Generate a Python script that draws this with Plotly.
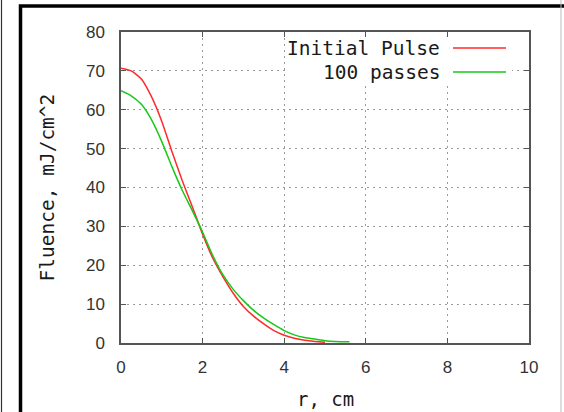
import plotly.graph_objects as go

# ---- data ----
r_initial = [0, 0.25, 0.5, 0.75, 1.0, 1.25, 1.5, 1.75, 2.0, 2.25, 2.5, 2.75, 3.0,
             3.25, 3.5, 3.75, 4.0, 4.25, 4.5, 4.75, 5.0]
f_initial = [70.7, 70.0, 67.9, 63.3, 57.0, 49.2, 41.8, 35.0, 28.0, 21.8, 17.0, 12.8, 9.4,
             6.9, 4.9, 3.2, 2.0, 1.2, 0.7, 0.4, 0.2]

r_passes = [0, 0.25, 0.5, 0.75, 1.0, 1.25, 1.5, 1.75, 2.0, 2.25, 2.5, 2.75, 3.0,
            3.25, 3.5, 3.75, 4.0, 4.25, 4.5, 4.75, 5.0, 5.25, 5.6]
f_passes = [64.9, 63.6, 61.4, 57.4, 51.8, 45.3, 39.3, 34.0, 28.5, 22.5, 17.5, 13.8, 10.9,
            8.4, 6.4, 4.7, 3.2, 2.1, 1.4, 1.0, 0.6, 0.4, 0.3]

series_names = ["Initial Pulse", "100 passes"]
series_colors = ["#ff2a2a", "#18c818"]

x_ticks = [0, 2, 4, 6, 8, 10]
y_ticks = [0, 10, 20, 30, 40, 50, 60, 70, 80]

x_title = "r, cm"
y_title = "Fluence, mJ/cm^2"

# ---- geometry ----
W, H = 564, 412
L, R, T, B = 121, 529, 32, 343
pw, ph = R - L, B - T


def px(x):
    return (x - L) / pw


def py(y):
    return (B - y) / ph


mono = "DejaVu Sans Mono"
sans = "Liberation Sans"

fig = go.Figure()
fig.add_trace(go.Scatter(x=r_initial, y=f_initial, mode="lines", name=series_names[0],
                         line=dict(color=series_colors[0], width=1.5, shape="spline",
                                   smoothing=0.6), showlegend=False))
fig.add_trace(go.Scatter(x=r_passes, y=f_passes, mode="lines", name=series_names[1],
                         line=dict(color=series_colors[1], width=1.5, shape="spline",
                                   smoothing=0.6), showlegend=False))

axis_common = dict(
    showgrid=True, gridcolor="#9a9a9a", gridwidth=1, griddash="2px,4px",
    showline=True, linecolor="#555555", linewidth=1.5, mirror="ticks",
    ticks="inside", ticklen=5, tickcolor="#555555", tickwidth=1.2,
    zeroline=False, tickfont=dict(family=sans, size=17, color="#333333"),
)

fig.update_layout(
    width=W, height=H, autosize=False,
    margin=dict(l=L, r=W - R, t=T, b=H - B, pad=0),
    paper_bgcolor="white", plot_bgcolor="white",
    xaxis=dict(range=[0, 10], tickvals=x_ticks, ticktext=[str(v) for v in x_ticks],
               ticklabelstandoff=8, **axis_common),
    yaxis=dict(range=[0, 80], tickvals=y_ticks, ticktext=[str(v) for v in y_ticks],
               ticklabelstandoff=11, **axis_common),
    showlegend=False,
)

shapes = []
# outer frame (thick black), extends beyond the right/bottom edges
shapes.append(dict(type="rect", xref="paper", yref="paper",
                   x0=px(20.5), x1=px(575), y0=py(6), y1=py(425),
                   line=dict(color="black", width=3.5), fillcolor="rgba(0,0,0,0)", layer="above"))
# thin left line
shapes.append(dict(type="line", xref="paper", yref="paper",
                   x0=px(1.5), x1=px(1.5), y0=py(0), y1=py(412),
                   line=dict(color="#333333", width=1.2), layer="above"))
# thin right line
shapes.append(dict(type="line", xref="paper", yref="paper",
                   x0=px(561), x1=px(561), y0=py(0), y1=py(412),
                   line=dict(color="#bbbbbb", width=1), layer="above"))
# legend background
shapes.append(dict(type="rect", xref="paper", yref="paper",
                   x0=px(286), x1=px(512), y0=py(84), y1=py(38),
                   line=dict(width=0), fillcolor="white", layer="above"))

annotations = []
legend_rows = [48, 72]
for name, color, yrow in zip(series_names, series_colors, legend_rows):
    shapes.append(dict(type="line", xref="paper", yref="paper",
                       x0=px(453), x1=px(506), y0=py(yrow), y1=py(yrow),
                       line=dict(color=color, width=1.5), layer="above"))
    annotations.append(dict(xref="paper", yref="paper", x=px(442), y=py(yrow),
                            text=name, showarrow=False, xanchor="right", yanchor="middle",
                            font=dict(family=mono, size=19.5, color="#1a1a1a")))

annotations.append(dict(xref="paper", yref="paper", x=0.5, y=py(399), text=x_title,
                        showarrow=False, xanchor="center", yanchor="middle",
                        font=dict(family=mono, size=19, color="#1a1a1a")))
annotations.append(dict(xref="paper", yref="paper", x=px(47), y=0.5, text=y_title,
                        showarrow=False, xanchor="center", yanchor="middle", textangle=-90,
                        font=dict(family=mono, size=19.5, color="#1a1a1a")))

fig.update_layout(shapes=shapes, annotations=annotations)

fig.write_html("out.html", config={"displayModeBar": False},
               post_script="document.body.style.margin='0';document.body.style.overflow='hidden';")
